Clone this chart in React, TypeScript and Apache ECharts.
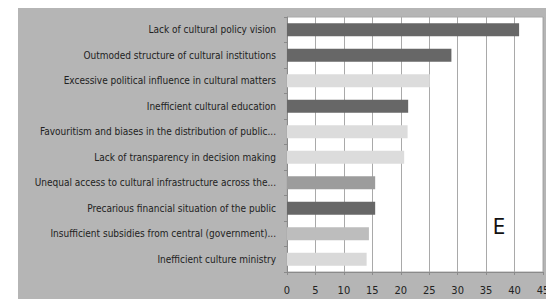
import React, { useEffect, useRef } from "react";
import * as echarts from "echarts";

const categories = [
  "Lack of cultural policy vision",
  "Outmoded structure of cultural institutions",
  "Excessive political influence in cultural matters",
  "Inefficient cultural education",
  "Favouritism and biases in the distribution of public...",
  "Lack of transparency in decision making",
  "Unequal access to cultural infrastructure across the...",
  "Precarious financial situation of the public",
  "Insufficient subsidies from central (government)...",
  "Inefficient culture ministry",
];
const values = [40.8, 28.9, 25.1, 21.3, 21.2, 20.6, 15.5, 15.5, 14.4, 14.0];
const barColors = [
  "#676767", "#676767", "#dcdcdc", "#676767", "#dcdcdc",
  "#dcdcdc", "#9c9c9c", "#676767", "#bdbdbd", "#d9d9d9",
];
const xTicks = [0, 5, 10, 15, 20, 25, 30, 35, 40, 45];
const panelLetter = "E";

export default function App() {
  const ref = useRef<HTMLDivElement>(null);
  useEffect(() => {
    document.body.style.margin = "0";
    const chart = echarts.init(ref.current!, null, { renderer: "svg" });
    const font = "'DejaVu Sans Condensed', 'Liberation Sans Narrow', sans-serif";
    chart.setOption({
      animation: false,
      backgroundColor: "#ffffff",
      graphic: [
        {
          type: "rect",
          z: -10,
          silent: true,
          shape: { x: 18, y: 8, width: 528, height: 291 },
          style: { fill: "#b5b5b5" },
        },
        {
          type: "text",
          x: 499,
          y: 226,
          z: 10,
          style: {
            text: panelLetter,
            fill: "#111",
            font: "22px 'DejaVu Sans Condensed', sans-serif",
            align: "center",
            verticalAlign: "middle",
          },
        },
      ],
      grid: {
        left: 287,
        right: 3,
        top: 17,
        bottom: 27,
        containLabel: false,
        outerBoundsMode: "none",
        show: true,
        backgroundColor: "#ffffff",
        borderColor: "#a8a8a8",
        borderWidth: 1,
      },
      xAxis: {
        type: "value",
        min: 0,
        max: 45,
        interval: 5,
        axisLine: { show: true, lineStyle: { color: "#8a8a8a" } },
        axisTick: { show: true, length: 3, lineStyle: { color: "#8a8a8a" } },
        splitLine: { show: true, lineStyle: { color: "#a9a9a9", width: 1 } },
        axisLabel: {
          color: "#222",
          fontSize: 11,
          fontFamily: font,
          margin: 13,
          formatter: (v: number) => (xTicks.includes(v) ? String(v) : ""),
        },
      },
      yAxis: {
        type: "category",
        data: categories,
        inverse: true,
        axisLine: { show: true, lineStyle: { color: "#8a8a8a" } },
        axisTick: { show: true, length: 3, lineStyle: { color: "#8a8a8a" } },
        axisLabel: {
          color: "#222",
          fontSize: 10,
          fontFamily: font,
          margin: 11,
        },
      },
      series: [
        {
          type: "bar",
          barWidth: 13,
          data: values.map((v, i) => ({
            value: v,
            itemStyle: { color: barColors[i] },
          })),
        },
      ],
    });
    return () => chart.dispose();
  }, []);
  return (
    <div
      ref={ref}
      style={{ position: "absolute", left: 0, top: 0, width: 546, height: 299 }}
    />
  );
}
